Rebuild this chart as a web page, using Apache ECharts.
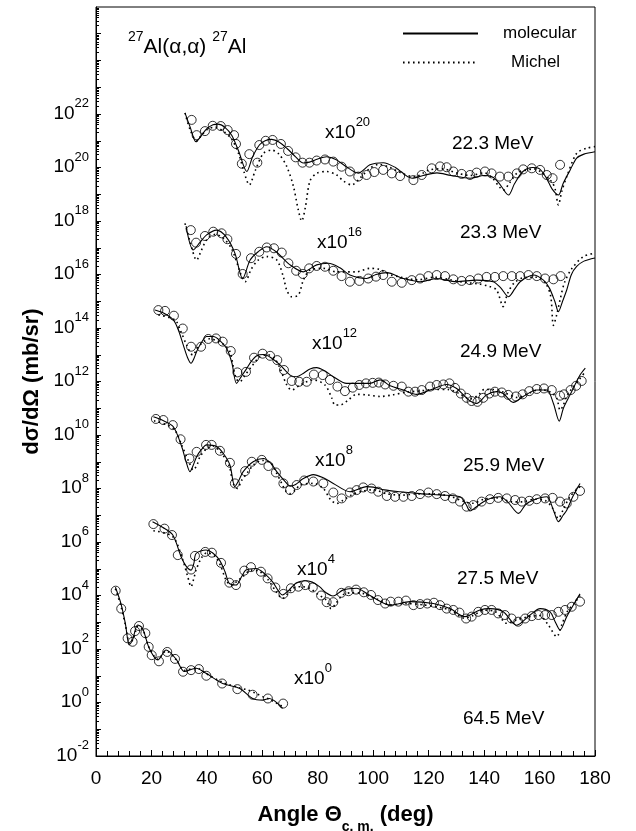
<!DOCTYPE html>
<html><head><meta charset="utf-8">
<script src="https://cdn.jsdelivr.net/npm/echarts@6/dist/echarts.min.js"></script>
<style>html,body{margin:0;padding:0;background:#fff}#c{width:636px;height:831px}</style>
</head><body><div id="c"></div>
<script>
// ---- data: [angle (deg), log10 dσ/dΩ (mb/sr), unscaled] ----
const energyLabels = ['22.3 MeV','23.3 MeV','24.9 MeV','25.9 MeV','27.5 MeV','64.5 MeV'];
const scaleExps = [20,16,12,8,4,0];
const xTickLabels = [0,20,40,60,80,100,120,140,160,180];
const yLabelExps = [-2,0,2,4,6,8,10,12,14,16,18,20,22];

const exp223 = [[34.5,1.78],[36.3,1.21],[39.3,1.36],[42.1,1.56],[45.0,1.55],[47.5,1.40],[49.8,1.21],[50.5,0.88],[52.6,0.14],[55.3,0.50],[58.2,0.18],[58.9,0.84],[61.2,1.00],[63.7,1.03],[66.7,0.88],[69.3,0.62],[72.0,0.38],[74.5,0.18],[77.0,0.18],[79.6,0.26],[82.6,0.30],[85.6,0.22],[88.6,0.03],[91.6,-0.15],[94.6,-0.34],[97.6,-0.28],[100.4,-0.17],[103.6,-0.09],[106.7,-0.22],[109.7,-0.32],[114.5,-0.47],[117.5,-0.28],[121.1,-0.03],[124.1,0.04],[126.5,0.01],[128.9,-0.15],[131.9,-0.24],[134.9,-0.28],[137.3,-0.19],[140.3,-0.15],[142.7,-0.22],[145.7,-0.34],[148.7,-0.34],[151.8,-0.22],[154.1,-0.07],[157.2,-0.03],[160.2,-0.09],[162.6,-0.28],[164.7,-0.40],[167.4,0.10]];
const mol223 = [[32.1,2.04],[34,1.5],[36.1,0.96],[38,1.2],[40,1.45],[42.2,1.6],[44,1.62],[46.5,1.5],[49,1.2],[51.5,0.6],[54.4,-0.15],[56.5,0.4],[59,0.85],[61,1.0],[63.4,1.05],[66,0.95],[69,0.7],[72,0.4],[74.8,0.17],[77,0.2],[80,0.32],[83.2,0.40],[86.5,0.3],[90,0.05],[94.6,-0.21],[98.8,0.1],[103.6,0.18],[108,0.0],[114,-0.4],[118,-0.3],[123,-0.2],[128,-0.3],[135,-0.4],[140,-0.3],[143,-0.35],[145.5,-0.6],[148.8,-1.03],[151,-0.6],[154,-0.15],[157.5,0.0],[160,-0.05],[162.5,-0.4],[164.5,-0.8],[166.8,-1.03],[168.5,-0.6],[171,-0.1],[173.4,0.35],[176,0.5],[180,0.59]];
const mic223 = [[32.1,2.04],[34,1.4],[36.3,1.0],[38,1.2],[40.5,1.45],[43,1.5],[46,1.35],[49,1.05],[51.5,0.5],[53.5,-0.2],[55.3,-0.65],[57.5,-0.1],[60.4,0.53],[63.4,0.65],[66,0.5],[68.8,0.04],[71.2,-0.7],[73,-1.6],[74.2,-2.0],[75.5,-1.5],[77.2,-0.5],[79.6,-0.22],[83.2,-0.15],[86.8,-0.28],[89.2,-0.5],[92.2,-0.65],[95.2,-0.4],[98.8,-0.03],[102,0.12],[106,0.0],[110,-0.2],[115,-0.35],[120,-0.1],[125,-0.05],[130,-0.2],[135,-0.3],[140,-0.2],[143,-0.4],[145.7,-0.75],[147,-0.85],[149,-0.6],[152,-0.2],[155,-0.1],[158,-0.05],[161,-0.2],[163,-0.4],[164.4,-0.53],[165.6,-0.8],[166.8,-1.4],[168,-0.9],[169.8,-0.34],[173.4,0.53],[177,0.72],[180,0.78]];

const exp233 = [[34.2,1.66],[36.1,1.19],[39.3,1.44],[42.3,1.60],[45.3,1.54],[47.4,1.32],[50.5,0.77],[52.9,0.02],[55.9,0.61],[58.9,0.85],[61.6,1.01],[64.2,0.98],[67.0,0.82],[69.4,0.42],[72.2,0.14],[74.6,0.02],[76.9,0.23],[79.6,0.32],[82.6,0.29],[85.6,0.14],[88.6,-0.06],[91.6,-0.27],[95.0,-0.24],[98.2,-0.15],[101.0,-0.08],[103.6,-0.02],[106.7,-0.27],[110.3,-0.31],[113.9,-0.21],[116.9,-0.15],[119.9,-0.06],[122.9,-0.02],[125.9,-0.06],[128.9,-0.18],[131.9,-0.24],[134.9,-0.21],[137.9,-0.15],[140.9,-0.09],[143.9,-0.09],[146.9,-0.06],[150,-0.06],[153,-0.06],[156,-0.02],[159,-0.06],[162,-0.15],[165,-0.18],[167.6,-0.06]];
const mol233 = [[32.5,1.81],[35.1,0.92],[37.5,1.2],[39.9,1.48],[43.5,1.66],[47,1.4],[50.1,0.8],[52.9,-0.15],[55.6,0.54],[58.5,0.85],[61.6,1.04],[65,0.85],[70,0.36],[74.8,0.1],[79.6,0.36],[83.8,0.42],[88,0.25],[91.6,-0.02],[97.6,-0.15],[101,0.0],[104.9,0.07],[110.9,-0.15],[116.9,-0.27],[122.9,-0.15],[130,-0.27],[137.3,-0.21],[143.3,-0.27],[146,-0.5],[148.8,-0.83],[151,-0.55],[153,-0.27],[157.8,-0.02],[161.4,-0.21],[163.5,-0.5],[165.5,-1.0],[166.8,-1.39],[168.3,-1.0],[169.8,-0.58],[171.5,0.0],[173.4,0.3],[176,0.5],[180,0.62]];
const mic233 = [[32.1,1.91],[34,1.2],[36.3,0.54],[38,0.9],[39.9,1.29],[43,1.5],[46,1.35],[49,0.95],[52.6,-0.09],[53.8,-0.27],[56,0.2],[58.5,0.54],[61.6,0.67],[65.2,0.54],[67.6,-0.09],[68.8,-0.58],[70.6,-0.83],[73,-0.77],[74.8,-0.21],[77.2,0.17],[82,0.23],[86.8,0.1],[94,0.1],[98.8,0.23],[102,0.2],[106,0.0],[110,-0.1],[116,-0.2],[122,-0.1],[128,-0.2],[133,-0.3],[138,-0.35],[142,-0.45],[144.5,-0.58],[146.9,-1.2],[148.5,-0.7],[151,-0.3],[155,-0.1],[159,-0.1],[162,-0.3],[164,-0.8],[165,-1.9],[166.2,-1.5],[167.5,-0.9],[169,-0.3],[171.5,0.2],[175.8,0.67],[180,0.8]];

const exp249 = [[22.5,2.67],[24.9,2.64],[28.1,2.46],[31.3,1.98],[34.3,1.30],[37.9,1.30],[40.5,1.59],[43.3,1.61],[45.7,1.49],[48.6,1.14],[51.0,0.34],[54.1,0.36],[57.0,0.89],[60.1,1.04],[62.8,0.96],[65.4,0.80],[67.8,0.43],[70.6,0.02],[73.3,-0.01],[76,-0.01],[78.6,0.26],[81.8,0.24],[84.4,0.06],[87.1,-0.19],[89.8,-0.36],[92.6,-0.23],[95.0,-0.13],[97.4,-0.07],[99.8,-0.05],[102,-0.04],[104.3,-0.11],[107.3,-0.16],[110.3,-0.19],[112.7,-0.38],[115.1,-0.38],[117.5,-0.32],[120.5,-0.19],[122.9,-0.13],[125.3,-0.11],[127.5,-0.07],[129.5,-0.24],[131.6,-0.45],[133.7,-0.61],[135.5,-0.73],[137.6,-0.76],[139.7,-0.61],[141.9,-0.45],[143.9,-0.38],[146.4,-0.41],[148.7,-0.50],[151.5,-0.56],[153.9,-0.48],[156.3,-0.36],[159,-0.28],[161.6,-0.26],[164.4,-0.32],[167.4,-0.53],[168.8,-0.48],[171.2,-0.32],[173.2,-0.16],[175.2,0.02]];
const mol249 = [[21.3,2.67],[24.5,2.55],[27.9,2.3],[29.8,1.9],[31.5,1.36],[33,0.9],[34.3,0.68],[35.3,0.85],[36.3,1.12],[38,1.45],[39.9,1.68],[42.3,1.68],[44.5,1.55],[47.1,1.24],[49,0.7],[50.7,-0.07],[52.5,0.2],[54.4,0.49],[56,0.75],[58,0.96],[60.4,1.01],[63,0.9],[66.4,0.62],[70,0.24],[72.4,0.18],[75,0.32],[77.2,0.47],[79.6,0.52],[82.5,0.4],[85.6,0.18],[90.4,-0.07],[95.2,-0.07],[98.8,-0.07],[102.5,0.06],[106.1,-0.16],[110.9,-0.32],[115.7,-0.48],[120.5,-0.32],[126.5,-0.11],[130.1,-0.26],[132.5,-0.5],[134.9,-0.73],[137.3,-0.82],[140.9,-0.5],[144.5,-0.38],[146.9,-0.45],[150.5,-0.78],[154.1,-0.56],[159,-0.32],[162.6,-0.32],[165,-0.82],[167.1,-1.48],[168.6,-1.0],[171,-0.5],[174.6,0.24],[176.5,0.5]];
const mic249 = [[22.5,2.49],[28.5,2.3],[30.5,1.9],[32.7,1.36],[34.9,0.99],[36.9,1.3],[39,1.5],[41,1.6],[44,1.5],[46.5,1.35],[48.3,1.12],[50.5,0.12],[51.9,-0.01],[53.5,0.2],[55.6,0.49],[59.2,0.93],[62,1.0],[64.5,0.85],[66.4,0.49],[68.8,-0.13],[70.6,-0.32],[73.6,-0.13],[78.4,0.06],[82.6,-0.13],[85,-0.6],[86.2,-0.88],[88,-0.88],[91,-0.69],[94,-0.48],[97.6,-0.5],[102.5,-0.56],[107,-0.5],[112,-0.4],[117,-0.35],[122,-0.3],[127,-0.3],[131,-0.45],[135,-0.65],[138,-0.5],[140,-0.3],[144,-0.3],[148,-0.45],[152,-0.6],[156,-0.45],[160,-0.3],[164,-0.4],[166.2,-0.63],[167.4,-1.07],[168.5,-0.9],[170,-0.5],[173,-0.1],[176,0.3]];

const exp259 = [[21.6,2.60],[24.3,2.56],[27.7,2.37],[30.5,1.84],[33.7,1.12],[36.3,1.37],[39.7,1.63],[41.7,1.63],[44.7,1.41],[48.3,0.96],[50.1,0.19],[53.8,0.65],[56.2,1.0],[59.8,1.07],[62.2,0.84],[64.9,0.6],[67.6,0.19],[70,-0.06],[72.4,0.13],[75.1,0.30],[78.4,0.26],[82,0.19],[85.6,-0.15],[88.6,-0.37],[91.6,-0.15],[94,-0.06],[96.4,0.04],[99.4,0.0],[101.8,-0.12],[104.9,-0.28],[107.9,-0.31],[110.9,-0.31],[113.9,-0.28],[116.9,-0.21],[119.9,-0.15],[122.9,-0.21],[125.9,-0.28],[128.7,-0.37],[131.3,-0.49],[133.7,-0.68],[136.1,-0.62],[139.1,-0.49],[142.1,-0.40],[145.1,-0.35],[148.2,-0.37],[151.2,-0.43],[153.6,-0.49],[156.3,-0.46],[159,-0.40],[162,-0.37],[164.7,-0.35],[167.4,-0.49],[169.8,-0.56],[172.2,-0.31],[174.6,-0.09]];
const mol259 = [[20.7,2.68],[24,2.55],[27.9,2.31],[30.9,1.57],[32.5,1.0],[33.9,0.63],[35,0.85],[36.3,1.19],[38,1.45],[39.9,1.63],[43.5,1.57],[46,1.3],[48.3,0.88],[50.1,0.07],[51.5,0.3],[53.1,0.63],[56.7,1.0],[60.4,1.12],[63,0.95],[65.2,0.63],[68.8,0.19],[70,0.09],[72,0.15],[74.8,0.37],[78.4,0.52],[82,0.4],[85.6,0.19],[91.6,-0.12],[97.6,0.07],[100,0.05],[104,-0.05],[109.7,-0.12],[116.9,-0.19],[124.1,-0.24],[131.3,-0.31],[133.5,-0.6],[134.9,-0.84],[137,-0.7],[140.9,-0.43],[145.7,-0.31],[148.5,-0.5],[152.4,-0.93],[155,-0.6],[157.8,-0.43],[162.6,-0.31],[165,-0.81],[166.8,-1.24],[168.5,-1.0],[169.8,-0.81],[172,-0.3],[174.6,0.19]];
const mic259 = [[20.9,2.53],[27.9,2.25],[31,1.6],[33.5,1.0],[35.1,0.69],[36.5,0.9],[37.5,1.19],[40,1.5],[42,1.6],[45,1.35],[48,0.85],[49.5,0.19],[51,0.0],[52.5,0.3],[54.4,0.56],[57,0.9],[60,1.05],[63,0.95],[65,0.6],[67,0.19],[68.5,-0.1],[70,-0.19],[72,-0.05],[73.6,0.13],[78.4,0.19],[82,0.0],[84.5,-0.4],[86.8,-0.56],[89,-0.45],[92,-0.25],[96,-0.1],[100,-0.05],[105,-0.2],[110,-0.25],[116,-0.2],[122,-0.2],[128,-0.3],[133,-0.5],[136,-0.55],[140,-0.4],[145,-0.35],[150,-0.5],[154,-0.5],[158,-0.4],[162,-0.45],[164.5,-0.7],[166.8,-1.12],[168.5,-0.8],[171,-0.3],[174.6,0.07]];

const exp275 = [[20.7,2.67],[24.7,2.50],[27.4,2.26],[29.5,1.51],[34.3,0.97],[35.7,1.48],[39.4,1.63],[41.8,1.60],[45.1,1.22],[48.1,0.48],[50.5,0.39],[53.5,0.93],[55.9,1.06],[59.5,0.89],[61.9,0.64],[64.7,0.30],[67.6,0.06],[70.3,0.27],[73,0.33],[75.5,0.39],[78.2,0.30],[81.2,0.0],[83.2,-0.25],[85.6,-0.25],[88.5,0.1],[91.1,0.16],[93.8,0.22],[96.6,0.12],[99.2,0.02],[101.7,-0.17],[104.3,-0.30],[106.3,-0.23],[109.1,-0.23],[111.8,-0.19],[114.5,-0.36],[116.9,-0.32],[119.5,-0.30],[121.9,-0.27],[124.1,-0.36],[126.5,-0.49],[128.9,-0.54],[131.1,-0.64],[133.5,-0.86],[135.5,-0.79],[137.9,-0.61],[140.3,-0.54],[142.7,-0.54],[145.1,-0.67],[147.5,-0.73],[149.9,-0.86],[152.3,-0.98],[154.8,-0.86],[157.2,-0.77],[159.6,-0.73],[162,-0.73],[164.4,-0.73],[166.8,-0.61],[169.2,-0.54],[171.6,-0.42],[174.6,-0.23]];
const mol275 = [[20.4,2.76],[24,2.55],[27.7,2.26],[30.7,1.45],[32.5,1.1],[34.3,0.95],[35.3,1.2],[36.1,1.57],[39.7,1.7],[42,1.6],[44.5,1.33],[46.5,0.9],[48.1,0.45],[50.5,0.39],[52.5,0.7],[54.1,0.95],[57.7,1.01],[61,0.8],[63.7,0.51],[67.3,0.02],[69.7,0.21],[72,0.45],[75.1,0.55],[78,0.5],[80.6,0.33],[83,0.1],[85.5,-0.02],[89.2,0.21],[94,0.27],[98,0.05],[101.3,-0.15],[106.1,-0.36],[113.3,-0.23],[121.7,-0.3],[127.7,-0.49],[133.1,-0.79],[138.5,-0.54],[142.1,-0.49],[146.9,-0.61],[151.7,-1.11],[156.6,-0.73],[160.2,-0.49],[163.8,-0.61],[165.5,-0.95],[167.4,-1.29],[169.8,-0.79],[172.5,-0.3],[174.6,0.06]];
const mic275 = [[20.7,2.42],[27.7,2.2],[31.3,1.33],[33.1,0.7],[34.3,0.33],[35.2,0.6],[36.1,0.95],[38,1.4],[40,1.6],[43,1.45],[45,1.1],[46.9,0.58],[48.7,0.39],[50.5,0.5],[52.9,0.7],[56,0.95],[59,0.9],[62,0.6],[65,0.14],[67.3,-0.11],[69,0.05],[71,0.27],[74,0.33],[77,0.27],[80,0.05],[83,-0.17],[84.8,-0.49],[86.5,-0.3],[89,0.02],[92,0.1],[96.2,0.08],[99,-0.05],[102.2,-0.17],[106,-0.35],[112,-0.3],[118,-0.35],[124,-0.45],[128,-0.55],[133,-0.85],[136,-0.75],[140,-0.55],[144,-0.6],[148.2,-1.04],[152,-0.9],[156,-0.8],[160,-0.75],[163.2,-1.11],[166.2,-1.54],[168,-1.1],[170,-0.6],[172.5,-0.3],[174.6,0.0]];

const exp645 = [[7.1,4.18],[9.1,3.51],[11.4,2.40],[13.2,2.27],[14.1,2.67],[15.5,2.86],[17.8,2.59],[19.0,2.08],[20.1,1.77],[22.7,1.54],[25.7,1.89],[28.5,1.63],[31.4,1.15],[34.3,1.21],[37.1,1.25],[39.8,1.0],[45.5,0.71],[51.0,0.5],[56.5,0.29],[62.0,0.15],[67.5,-0.04]];
const mol645 = [[7.0,4.31],[9.0,3.7],[10.6,2.95],[12.0,2.15],[13.2,2.34],[15.0,2.9],[16.8,2.77],[19.2,2.03],[22.3,1.59],[25.3,1.96],[28.9,1.62],[31.9,1.16],[36.1,1.28],[39.7,1.09],[45.7,0.71],[51.7,0.53],[56.5,0.15],[60.1,0.09],[62.5,0.15],[67.3,-0.22]];
const mic645 = [[7.0,4.25],[9.0,3.6],[10.6,2.9],[12.2,2.2],[13.5,2.4],[15.2,2.85],[17,2.7],[19.2,2.05],[22.3,1.62],[25.3,1.93],[28.9,1.6],[31.9,1.2],[36.1,1.3],[39.7,1.08],[45.7,0.75],[51.7,0.55],[54.7,0.47],[57.5,0.35],[60.1,0.22],[62.5,0.12],[67.3,-0.15]];

const expSets = [exp223, exp233, exp249, exp259, exp275, exp645];
const molSets = [mol223, mol233, mol249, mol259, mol275, mol645];
const micSets = [mic223, mic233, mic249, mic259, mic275, mic645];

// ---- chart ----
const FONT = 'Liberation Sans, Arial, Helvetica, sans-serif';
const scaled = (arr, f) => arr.map(p => [p[0], Math.pow(10, p[1] + f)]);

const majorTickVals = [];
for (let n = -2; n <= 26; n++) majorTickVals.push(Math.pow(10, n));
const minorTickVals = [];
for (let n = -2; n < 26; n++) for (let k = 2; k <= 9; k++) minorTickVals.push(k * Math.pow(10, n));
const labelVals = yLabelExps.map(e => Math.pow(10, e));

const supRich = (bs, ss, lh) => ({
  b: {fontSize: bs, fontFamily: FONT, color: '#000', lineHeight: lh, verticalAlign: 'bottom'},
  s: {fontSize: ss, fontFamily: FONT, color: '#000', lineHeight: lh, verticalAlign: 'top'}
});

const series = [];
for (let i = 0; i < expSets.length; i++) {
  const f = scaleExps[i];
  series.push({type: 'line', name: 'molecular', data: scaled(molSets[i], f), symbol: 'none', smooth: 0.3,
    lineStyle: {color: '#000', width: 1.1}, itemStyle: {color: '#000'}, z: 3});
  series.push({type: 'line', name: 'Michel', data: scaled(micSets[i], f), symbol: 'none', smooth: 0.3,
    lineStyle: {color: '#000', width: 1.6, type: [1.6, 3.4]}, itemStyle: {color: '#000'}, z: 3});
  series.push({type: 'scatter', name: 'data', data: scaled(expSets[i], f), symbol: 'circle', symbolSize: 9,
    itemStyle: {color: 'rgba(255,255,255,0)', borderColor: '#000', borderWidth: 1}, z: 2});
}

const scalePos = [[325,129],[317,239],[312,340],[315,457],[297,566],[294,675]];
const energyPos = [[452,144],[460,233],[460,352],[463,466],[457,579],[463,719]];
const graphics = [];
for (let i = 0; i < energyLabels.length; i++) {
  graphics.push({type: 'text', x: scalePos[i][0], y: scalePos[i][1], silent: true,
    style: {text: '{b|x10}{s|' + scaleExps[i] + '}', rich: supRich(19, 13, 26), align: 'left', textAlign: 'left', verticalAlign: 'middle', textVerticalAlign: 'middle'}});
  graphics.push({type: 'text', x: energyPos[i][0], y: energyPos[i][1], silent: true,
    style: {text: energyLabels[i], font: '19px ' + FONT, fill: '#000', align: 'left', textAlign: 'left', verticalAlign: 'middle', textVerticalAlign: 'middle'}});
}
graphics.push({type: 'text', x: 128, y: 44, silent: true,
  style: {text: '{s|27}{b|Al(α,α) }{s|27}{b|Al}', rich: supRich(21, 14, 28), align: 'left', textAlign: 'left', verticalAlign: 'middle', textVerticalAlign: 'middle'}});

const legendCommon = {orient: 'vertical', left: 397, itemWidth: 75, itemHeight: 14,
  itemStyle: {opacity: 0, borderWidth: 0}, selectedMode: false};

const option = {
  animation: false,
  backgroundColor: '#fff',
  grid: {left: 96, right: 41, top: 7, bottom: 75, show: true, borderColor: '#000', borderWidth: 1,
    backgroundColor: 'transparent', containLabel: false, outerBoundsMode: 'none'},
  legend: [
    Object.assign({}, legendCommon, {top: 20, data: ['molecular'], textStyle: {fontSize: 17, fontFamily: FONT, color: '#000', padding: [0,0,0,20]}}),
    Object.assign({}, legendCommon, {top: 49, data: ['Michel'], textStyle: {fontSize: 17, fontFamily: FONT, color: '#000', padding: [0,0,0,28]}})
  ],
  xAxis: {
    type: 'value', min: 0, max: 180, interval: 20,
    axisLine: {show: true, lineStyle: {color: '#000', width: 1}},
    axisTick: {show: true, inside: true, length: 6, lineStyle: {color: '#000'}},
    minorTick: {show: true, splitNumber: 5, length: 5, lineStyle: {color: '#000'}},
    splitLine: {show: false},
    axisLabel: {fontSize: 19, fontFamily: FONT, color: '#000', margin: 13,
      formatter: v => xTickLabels.indexOf(v) >= 0 ? String(v) : ''},
    name: '{a|Angle Θ}{sub|c. m.}{a| (deg)}', nameLocation: 'middle', nameGap: 48,
    nameTextStyle: {rich: {
      a: {fontSize: 22, fontWeight: 'bold', fontFamily: FONT, color: '#000', lineHeight: 30, verticalAlign: 'top'},
      sub: {fontSize: 14, fontWeight: 'bold', fontFamily: FONT, color: '#000', lineHeight: 30, verticalAlign: 'bottom'}
    }}
  },
  yAxis: [{
    type: 'log', logBase: 10, min: 1e-2, max: 1e26,
    axisLine: {show: true, lineStyle: {color: '#000', width: 1}},
    axisTick: {show: true, inside: true, length: 5, lineStyle: {color: '#000'}, customValues: majorTickVals},
    axisLabel: {customValues: labelVals, margin: 7, padding: [0, 0, 8, 0],
      formatter: v => '{b|10}{s|' + Math.round(Math.log10(v)) + '}',
      rich: supRich(19, 13, 26)},
    splitLine: {show: false},
    name: 'dσ/dΩ (mb/sr)', nameLocation: 'middle', nameGap: 53,
    nameTextStyle: {fontSize: 22, fontWeight: 'bold', fontFamily: FONT, color: '#000'}
  }, {
    type: 'log', logBase: 10, min: 1e-2, max: 1e26, position: 'left',
    axisLine: {show: false}, axisLabel: {show: false}, splitLine: {show: false},
    axisTick: {show: true, inside: true, length: 3, lineStyle: {color: '#000'}, customValues: minorTickVals}
  }],
  series: series,
  graphic: graphics
};

const chart = echarts.init(document.getElementById('c'), null, {renderer: 'canvas'});
chart.setOption(option);
</script></body></html>
